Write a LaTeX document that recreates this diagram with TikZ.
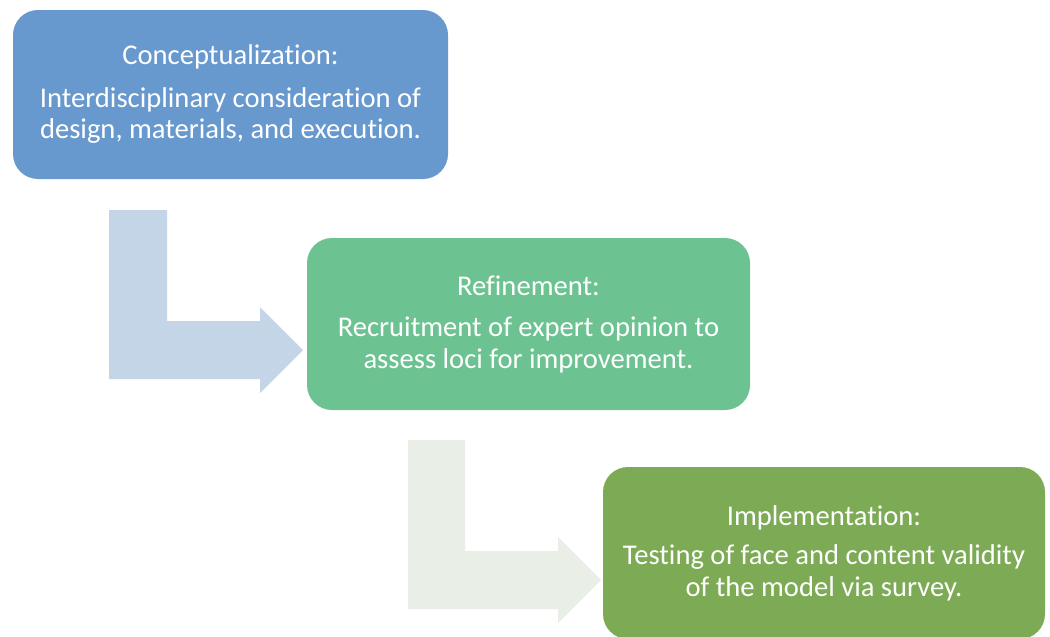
\documentclass[tikz,border=0pt]{standalone}
\usepackage{fontspec}
\setmainfont[Ligatures={NoCommon,NoRare,NoContextual},Contextuals=NoAlternate]{Carlito}
\definecolor{boxA}{HTML}{6899CE}
\definecolor{boxB}{HTML}{6CC391}
\definecolor{boxC}{HTML}{7DAA55}
\definecolor{arrA}{HTML}{C5D5E8}
\definecolor{arrB}{HTML}{E9EFE6}
\begin{document}
\begin{tikzpicture}[x=1pt,y=-1pt,
  stage/.style={rounded corners=25pt, minimum width=#1, align=center, text=white,
    font=\fontsize{28.6}{31.5}\selectfont, inner sep=0pt}]
\useasboundingbox[fill=white] (0,0) rectangle (1050,637);
% bent arrows
\fill[arrA] (109,210) -- (167,210) -- (167,321) -- (260,321) -- (260,307) -- (303,350)
  -- (260,393) -- (260,379) -- (109,379) -- cycle;
\fill[arrB] (408,440) -- (465,440) -- (465,551) -- (558,551) -- (558,537) -- (601,580)
  -- (558,623) -- (558,609) -- (408,609) -- cycle;
% boxes
\node[stage=435pt, fill=boxA, minimum height=169pt] (c) at (230.5,94.5)
  {Conceptualization:\\[11pt]Interdisciplinary consideration of\\design, materials, and execution.};
\node[stage=443pt, fill=boxB, minimum height=172pt] (r) at (528.5,324)
  {Refinement:\\[10pt]Recruitment of expert opinion to\\assess loci for improvement.};
\node[stage=442pt, fill=boxC, minimum height=172pt] (i) at (824,553)
  {Implementation:\\[8pt]Testing of face and content validity\\of the model via survey.};
\end{tikzpicture}
\end{document}
